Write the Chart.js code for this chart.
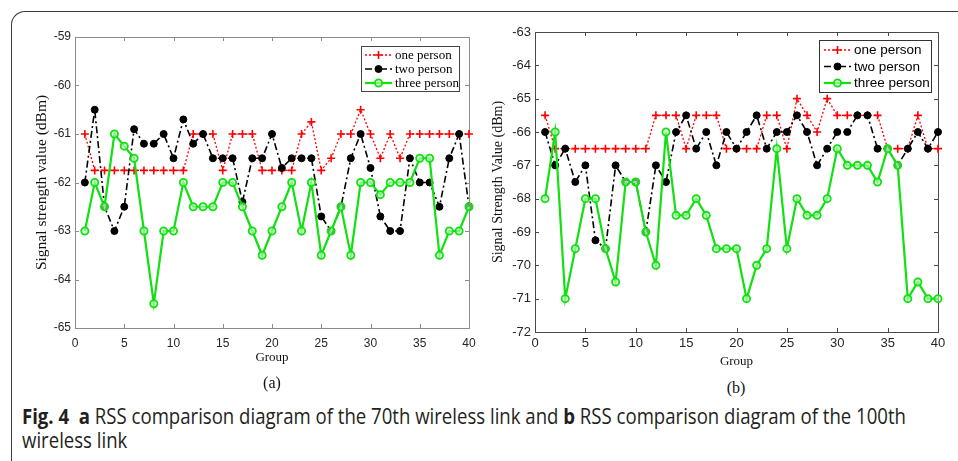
<!DOCTYPE html>
<html><head><meta charset="utf-8">
<script src="https://cdn.jsdelivr.net/npm/chart.js@4.4.0/dist/chart.umd.min.js"></script>
<style>
html,body{margin:0;padding:0;background:#fff;width:958px;height:461px;overflow:hidden;position:relative;}
#frame{position:absolute;left:11px;top:11px;width:1000px;height:500px;border-top:1.5px solid #3a3a3a;border-left:1.5px solid #3a3a3a;border-top-left-radius:14px;}
#ca{position:absolute;left:0;top:0;width:490px;height:375px;}
#cb{position:absolute;left:490px;top:0;width:468px;height:375px;}
.sub{position:absolute;font-family:"Liberation Serif",serif;font-size:16px;color:#111;transform:translate(-50%,-50%);white-space:nowrap;}
#cap{position:absolute;left:22px;top:403px;font-family:"Open Sans",sans-serif;font-size:22px;line-height:24px;color:#231f20;transform-origin:0 0;white-space:nowrap;}
#cap b{font-weight:700;}
</style></head><body>
<div id="frame"></div>
<canvas id="ca" width="490" height="375"></canvas>
<canvas id="cb" width="468" height="375"></canvas>
<div class="sub" style="left:272px;top:383px;">(a)</div>
<div class="sub" style="left:736px;top:388px;">(b)</div>
<div id="cap"><div id="cap1"><b>Fig. 4</b>&nbsp; <b>a</b> RSS comparison diagram of the 70th wireless link and <b>b</b> RSS comparison diagram of the 100th</div><div>wireless link</div></div>
<script>
// ---------- data ----------
const groups = Array.from({length:40},(_,i)=>i+1);
const seriesNames = ['one person','two person','three person'];

const aOne = [-61,-61.75,-61.75,-61.75,-61.75,-61.75,-61.75,-61.75,-61.75,-61.75,
              -61.75,-61,-61,-61,-61.75,-61,-61,-61,-61.75,-61.75,
              -61.75,-61.75,-61,-60.75,-61.75,-61.5,-61,-61,-60.5,-61,
              -61.5,-61,-61.5,-61,-61,-61,-61,-61,-61,-61];
const aTwo = [-62,-60.5,-62.5,-63,-62.5,-60.9,-61.2,-61.2,-61,-61.5,
              -60.7,-61.2,-61,-61.5,-61.5,-61.5,-62.4,-61.5,-61.5,-61,
              -61.7,-61.5,-61.5,-61.5,-62.7,-63,-62.5,-61.5,-61,-61.7,
              -62.7,-63,-63,-61.5,-62,-62,-62.5,-61.5,-61,-62.5];
const aThree = [-63,-62,-62.5,-61,-61.25,-61.5,-63,-64.5,-63,-63,
                -62,-62.5,-62.5,-62.5,-62,-62,-62.5,-63,-63.5,-63,
                -62.5,-62,-63,-62,-63.5,-63,-62.5,-63.5,-62,-62,
                -62.25,-62,-62,-62,-61.5,-61.5,-63.5,-63,-63,-62.5];

const bOne = [-65.5,-66.5,-66.5,-66.5,-66.5,-66.5,-66.5,-66.5,-66.5,-66.5,
              -66.5,-65.5,-65.5,-65.5,-66.5,-65.5,-65.5,-65.5,-66.5,-66.5,
              -66.5,-66.5,-65.5,-65.5,-66.5,-65,-65.5,-66,-65,-65.5,
              -65.5,-65.5,-65.5,-65.5,-66.5,-66.5,-66.5,-65.5,-66.5,-66.5];
const bTwo = [-66,-67,-66.5,-67.5,-67,-69.25,-69.5,-67,-67.5,-67.5,
              -69,-67,-67.5,-66,-65.5,-66.5,-66,-67,-66,-66.5,
              -66,-65.5,-66.5,-66,-66,-65.5,-66,-67,-66.5,-66,
              -66,-65.5,-65.5,-66.5,-66.5,-67,-66.5,-66,-66.5,-66];
const bThree = [-68,-66,-71,-69.5,-68,-68,-69.5,-70.5,-67.5,-67.5,
                -69,-70,-66,-68.5,-68.5,-68,-68.5,-69.5,-69.5,-69.5,
                -71,-70,-69.5,-66.5,-69.5,-68,-68.5,-68.5,-68,-66.5,
                -67,-67,-67,-67.5,-66.5,-67,-71,-70.5,-71,-71];

const xTicksMin = 0, xTicksMax = 40, xStep = 5;
const aYMin = -65, aYMax = -59;
const bYMin = -72, bYMax = -63;

// ---------- plugin: MATLAB-like box, inward ticks, legend ----------
const H = Chart.helpers;
const matlabPlugin = {
  id:'matlab',
  beforeDatasetsDraw(chart, args, o){
    const {ctx, chartArea:a, scales} = chart;
    ctx.save();
    ctx.strokeStyle = o.boxColor; ctx.lineWidth = 1;
    ctx.strokeRect(Math.round(a.left)+0.5, Math.round(a.top)+0.5, Math.round(a.right-a.left), Math.round(a.bottom-a.top));
    const L = o.tickLen;
    ctx.beginPath();
    scales.x.ticks.forEach(t=>{
      const px = Math.round(scales.x.getPixelForValue(t.value))+0.5;
      ctx.moveTo(px,a.bottom); ctx.lineTo(px,a.bottom-L);
      ctx.moveTo(px,a.top); ctx.lineTo(px,a.top+L);
    });
    scales.y.ticks.forEach(t=>{
      const py = Math.round(scales.y.getPixelForValue(t.value))+0.5;
      ctx.moveTo(a.left,py); ctx.lineTo(a.left+L,py);
      ctx.moveTo(a.right,py); ctx.lineTo(a.right-L,py);
    });
    ctx.stroke();
    ctx.restore();
  },
  afterDatasetsDraw(chart, args, o){
    const {ctx, chartArea:a} = chart;
    const lg = o.legend;
    const bx = a.right - lg.fromRight, by = a.top + lg.fromTop;
    ctx.save();
    ctx.fillStyle = '#fff';
    ctx.fillRect(bx, by, lg.w, lg.h);
    ctx.strokeStyle = lg.border; ctx.lineWidth = 1;
    ctx.strokeRect(Math.round(bx)+0.5, Math.round(by)+0.5, lg.w, lg.h);
    chart.data.datasets.forEach((ds,i)=>{
      const y = by + lg.firstRow + i*lg.rowH;
      const x1 = bx + lg.lineX, x2 = x1 + lg.lineW;
      ctx.save();
      ctx.strokeStyle = ds.borderColor; ctx.lineWidth = ds.borderWidth;
      ctx.setLineDash(ds.borderDash||[]);
      ctx.beginPath(); ctx.moveTo(x1,y); ctx.lineTo(x2,y); ctx.stroke();
      ctx.setLineDash([]);
      ctx.strokeStyle = ds.pointBorderColor; ctx.fillStyle = ds.pointBackgroundColor;
      ctx.lineWidth = ds.pointBorderWidth;
      H.drawPoint(ctx,{pointStyle:ds.pointStyle, radius:ds.pointRadius, borderWidth:ds.pointBorderWidth, rotation:0},(x1+x2)/2,y);
      ctx.restore();
      ctx.fillStyle = '#000';
      ctx.font = lg.font;
      ctx.textBaseline = 'middle'; ctx.textAlign = 'left';
      ctx.fillText(ds.label, x2 + lg.textGap, y+0.5);
    });
    ctx.restore();
  }
};

function makeSets(one, two, three){
  const pts = arr => groups.map((g,i)=>({x:g, y:arr[i]}));
  return [
    {label:seriesNames[0], data:pts(one), borderColor:'#ff0000', borderWidth:1.3, borderDash:[2,2],
     pointStyle:'cross', pointRadius:4, pointBorderWidth:1.6, pointBorderColor:'#ff0000', pointBackgroundColor:'#ff0000', order:2, clip:false},
    {label:seriesNames[1], data:pts(two), borderColor:'#000000', borderWidth:1.6, borderDash:[7,3,2,3],
     pointStyle:'circle', pointRadius:3.5, pointBorderWidth:1, pointBorderColor:'#000', pointBackgroundColor:'#000', order:1, clip:false},
    {label:seriesNames[2], data:pts(three), borderColor:'#11e011', borderWidth:2.2, borderDash:[],
     pointStyle:'circle', pointRadius:3.6, pointBorderWidth:1.8, pointBorderColor:'#11e011', pointBackgroundColor:'rgba(200,255,200,0.6)', order:0, clip:false}
  ];
}

function makeOptions(cfg){
  return {
    responsive:false, animation:false, events:[],
    layout:{padding:cfg.pad},
    elements:{line:{tension:0}},
    plugins:{legend:{display:false}, tooltip:{enabled:false},
      matlab:{boxColor:cfg.boxColor, tickLen:4, legend:cfg.legend}},
    scales:{
      x:{type:'linear', min:xTicksMin, max:xTicksMax,
         ticks:{stepSize:xStep, padding:cfg.xTickPad, color:'#262626', font:{family:'"Liberation Sans", Arial, sans-serif', size:cfg.tickSize}, maxRotation:0},
         grid:{display:false, drawTicks:false}, border:{display:false},
         title:{display:true, text:'Group', color:'#111', font:{family:'"Liberation Serif", serif', size:13}, padding:{top:0,bottom:cfg.xTitlePad}},
         afterFit(s){ s.height = cfg.xH; }},
      y:{min:cfg.yMin, max:cfg.yMax,
         ticks:{stepSize:1, padding:4, color:'#262626', font:{family:'"Liberation Sans", Arial, sans-serif', size:cfg.tickSize}},
         grid:{display:false, drawTicks:false}, border:{display:false},
         title:{display:true, text:cfg.yTitle, color:'#111', font:{family:'"Liberation Serif", serif', size:cfg.yTitleSize}, padding:{top:cfg.yTitlePad,bottom:0}},
         afterFit(s){ s.width = cfg.yW; }}
    }
  };
}

new Chart(document.getElementById('ca'), {
  type:'line',
  data:{datasets:makeSets(aOne,aTwo,aThree)},
  options:makeOptions({pad:{top:37,right:21,left:0,bottom:0}, boxColor:'#8c8c8c', xH:47, yW:75,
    yMin:aYMin, yMax:aYMax, tickSize:12, xTickPad:8, xTitlePad:10, yTitle:'Signal strength value (dBm)', yTitleSize:15.5, yTitlePad:33,
    legend:{fromRight:108, fromTop:9, w:98, h:45, firstRow:9, rowH:14, lineX:4, lineW:27, textGap:3, border:'#444', font:'13px "Liberation Serif", serif'}}),
  plugins:[matlabPlugin]
});

new Chart(document.getElementById('cb'), {
  type:'line',
  data:{datasets:makeSets(bOne,bTwo,bThree)},
  options:makeOptions({pad:{top:32,right:20,left:0,bottom:0}, boxColor:'#4a4a4a', xH:43, yW:45,
    yMin:bYMin, yMax:bYMax, tickSize:13, xTickPad:4, xTitlePad:6, yTitle:'Signal Strength Value (dBm)', yTitleSize:14, yTitlePad:0,
    legend:{fromRight:119, fromTop:8, w:112, h:52, firstRow:10, rowH:16.5, lineX:5, lineW:27, textGap:3, border:'#333', font:'13.5px "Liberation Sans", Arial, sans-serif'}}),
  plugins:[matlabPlugin]
});

// fit caption width to the figure
const c1 = document.getElementById('cap1');
const w = c1.getBoundingClientRect().width;
document.getElementById('cap').style.transform = 'scaleX(' + (884 / w) + ')';
</script>
</body></html>
